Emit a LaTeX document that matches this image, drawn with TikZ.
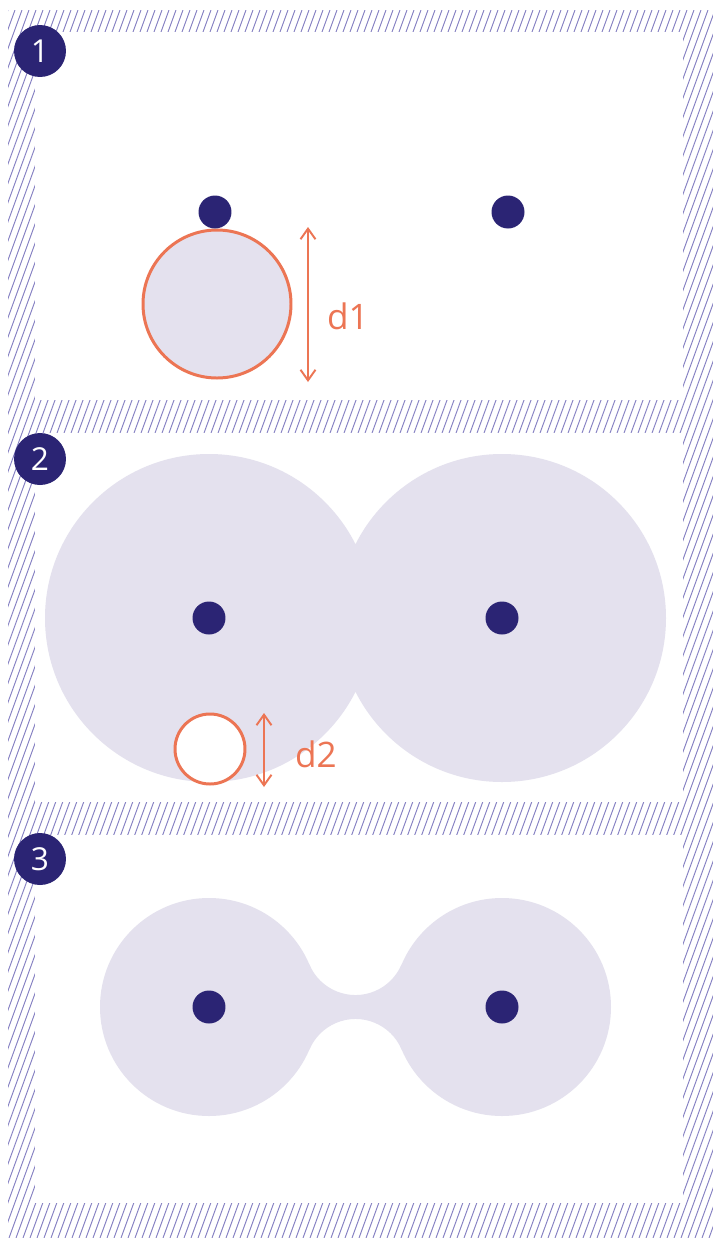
\documentclass[tikz,border=0pt]{standalone}
\usepackage{fontspec}
\setmainfont{Open Sans}
\usetikzlibrary{arrows.meta}
\definecolor{navy}{RGB}{43,36,116}
\definecolor{naranja}{RGB}{236,117,84}
\definecolor{lila}{RGB}{228,225,238}
\definecolor{rayado}{RGB}{135,130,195}
\begin{document}
\begin{tikzpicture}[x=0.02cm,y=0.02cm,
    hatch/.style={rayado,line width=0.55pt},
    panel/.style={fill=white,draw=none},
    dot/.style={circle,fill=navy,inner sep=0pt,minimum size=0.66cm},
    badge/.style={circle,fill=navy,text=white,inner sep=0pt,minimum size=1.04cm,
      font=\fontsize{18}{20}\selectfont},
    ring/.style={draw=naranja,line width=1.7pt},
    dim/.style={naranja,line width=1.1pt,{Straight Barb[length=6pt,width=8.5pt]}-{Straight Barb[length=6pt,width=8.5pt]}},
    dimlabel/.style={text=naranja,font=\fontsize{20}{22}\selectfont}]
  \useasboundingbox (0,0) rectangle (713,-1238);
  % Fondo rayado
  \begin{scope}
    \clip (8,-10) rectangle (713,-1238);
    \foreach \hx in {-460,-453,...,713}
      \draw[hatch] (\hx,-1238) -- ++(447,1228);
  \end{scope}
  % Paneles
  \fill[panel] (35,-32) rectangle (683,-400);
  \fill[panel] (35,-433) rectangle (683,-802);
  \fill[panel] (35,-835) rectangle (683,-1203);
  % Panel 1: sonda grande d1
  \draw[ring,fill=lila] (217,-304) circle (74);
  \node[dot] (p1a) at (215,-212) {};
  \node[dot] (p1b) at (508,-212) {};
  \coordinate (d1top) at (308,-227);
  \coordinate (d1bot) at (308,-382);
  \draw[dim] (d1top) -- (d1bot);
  \node[dimlabel] (d1) at (348,-316) {d1};
  % Panel 2: esferas de radio grande y sonda d2
  \fill[lila] (209,-618) circle (164);
  \fill[lila] (502,-618) circle (164);
  \node[dot] (p2a) at (209,-618) {};
  \node[dot] (p2b) at (502,-618) {};
  \draw[ring,fill=white] (210,-749) circle (35);
  \coordinate (d2top) at (264,-713);
  \coordinate (d2bot) at (264,-787);
  \draw[dim] (d2top) -- (d2bot);
  \node[dimlabel] (d2) at (316,-754) {d2};
  % Panel 3: superficie con puente
  \fill[lila] (209,-1007) circle (109);
  \fill[lila] (502,-1007) circle (109);
  \fill[lila] (309.4,-964.5) arc[start angle=202.9,end angle=337.1,radius=50]
    -- (401.6,-1049.5) arc[start angle=22.9,end angle=157.1,radius=50] -- cycle;
  \node[dot] (p3a) at (209,-1007) {};
  \node[dot] (p3b) at (502,-1007) {};
  % Numeros
  \node[badge] (b1) at (40,-51) {1};
  \node[badge] (b2) at (40,-459) {2};
  \node[badge] (b3) at (40,-859) {3};
\end{tikzpicture}
\end{document}
